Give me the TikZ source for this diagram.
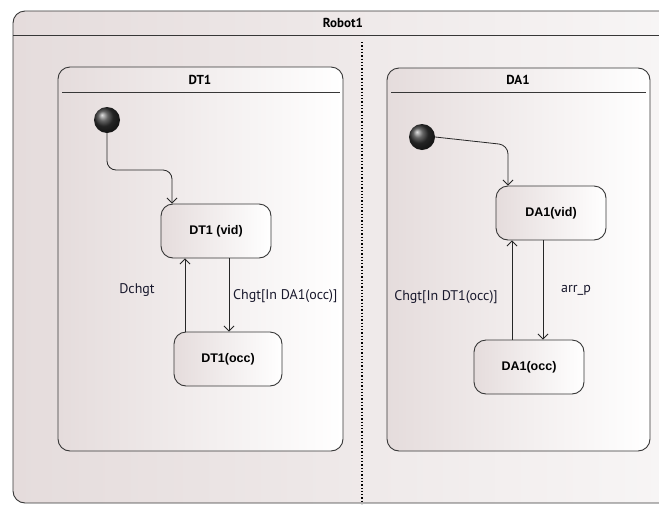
\documentclass[tikz,border=0pt]{standalone}
\usepackage{fontspec}
\setmainfont{Liberation Sans}
\newfontfamily\condfont{PT Sans}
\usetikzlibrary{arrows.meta,shadings}

\definecolor{shadeL}{RGB}{229,220,220}
\definecolor{shadeR}{RGB}{248,246,246}
\definecolor{edgeline}{RGB}{55,55,55}
\definecolor{labelink}{RGB}{25,25,45}

\tikzset{
  region/.style={draw=edgeline, line width=0.9pt, rounded corners=12pt,
    left color=shadeL, right color=white},
  statebox/.style={draw=edgeline, line width=0.9pt, rounded corners=12pt,
    left color=shadeL, right color=white, minimum width=110pt,
    minimum height=54pt, font=\bfseries\fontsize{12.5}{14}\selectfont, text=black},
  initstate/.style={circle, minimum size=26pt, inner sep=0pt,
    shading=ball, ball color=black!80},
  title/.style={font=\condfont\bfseries\fontsize{13}{15}\selectfont, text=black},
  trans/.style={draw=black!85, line width=0.8pt,
    -{Straight Barb[length=5pt,width=10pt]}},
  edgelabel/.style={font=\condfont\fontsize{14}{16}\selectfont, text=labelink},
}

\begin{document}
\begin{tikzpicture}[x=1pt,y=-1pt]
  \useasboundingbox (0,0) rectangle (659,504);
  \clip (0,0) rectangle (659,504);
  \fill[white] (0,0) rectangle (659,504);

  % outer composite state Robot1
  \path[draw=edgeline, line width=0.9pt, rounded corners=12pt,
        left color=shadeL, right color=shadeR] (13,11) rectangle (690,503);
  \draw[edgeline, line width=0.9pt] (13,35) -- (690,35);
  \node[title] (robot) at (343,23) {Robot1};

  % concurrent region separator
  \draw[black, line width=1.3pt, dotted] (362,42) -- (362,504);

  % region DT1
  \path[region] (58,67) rectangle (343,451);
  \draw[edgeline, line width=0.9pt] (62,92) -- (340,92);
  \node[title] (dt1) at (200,80) {DT1};

  % region DA1
  \path[region] (387,68) rectangle (650,451);
  \draw[edgeline, line width=0.9pt] (391,92) -- (646,92);
  \node[title] (da1) at (518,80) {DA1};

  % states of DT1
  \node[initstate] (i1) at (107,120) {};
  \node[statebox] (dtvid) at (216,231) {DT1 (vid)};
  \node[statebox, minimum width=108pt] (dtocc) at (228,359) {DT1(occ)};

  % states of DA1
  \node[initstate] (i2) at (422,137) {};
  \node[statebox] (david) at (551,213) {DA1(vid)};
  \node[statebox] (daocc) at (529,367) {DA1(occ)};

  % initial transitions
  \coordinate (b1) at (172,170);
  \draw[trans, rounded corners=9pt] (i1.south) |- (b1) -- (b1 |- dtvid.north);
  \coordinate (b2) at (508,145);
  \draw[trans, rounded corners=9pt] (i2.east) -- (b2) -- (b2 |- david.north);

  % DT1 transitions
  \coordinate (u1) at (185,0);
  \coordinate (d1) at (229,0);
  \draw[trans] (u1 |- dtocc.north) -- (u1 |- dtvid.south);
  \draw[trans] (d1 |- dtvid.south) -- (d1 |- dtocc.north);
  \node[edgelabel] (lab1) at (137,290) {Dchgt};
  \node[edgelabel, anchor=west, inner sep=0pt] (lab2) at (233,296) {Chgt[In DA1(occ)]};

  % DA1 transitions
  \coordinate (u2) at (512,0);
  \coordinate (d2) at (543,0);
  \draw[trans] (u2 |- daocc.north) -- (u2 |- david.south);
  \draw[trans] (d2 |- david.south) -- (d2 |- daocc.north);
  \node[edgelabel] (lab3) at (446,297) {Chgt[In DT1(occ)]};
  \node[edgelabel] (lab4) at (576,290) {arr\_p};
\end{tikzpicture}
\end{document}
